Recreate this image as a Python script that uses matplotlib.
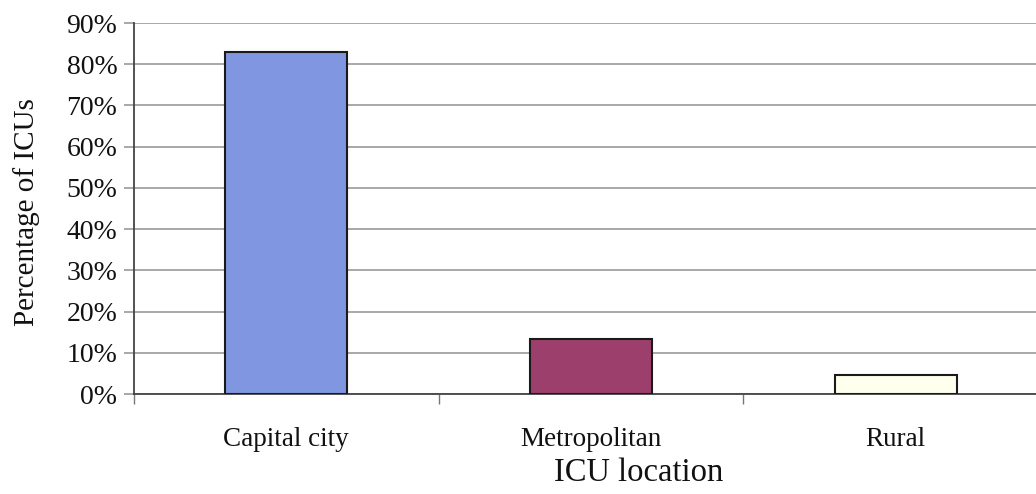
import matplotlib.pyplot as plt
from matplotlib.ticker import FixedLocator, FuncFormatter

# data
locations = ['Capital city', 'Metropolitan', 'Rural']
pct_icus = [83.0, 13.3, 4.5]
bar_colors = ['#8096E0', '#9C3F6C', '#FFFFEE']
y_ticks = [0, 10, 20, 30, 40, 50, 60, 70, 80, 90]

plt.rcParams['font.family'] = ['Liberation Serif', 'DejaVu Serif']

fig = plt.figure(figsize=(10.36, 4.94), dpi=100)
ax = fig.add_axes([0.1293, 0.2024, 0.8707, 0.751])

x = list(range(len(locations)))
ax.bar(x, pct_icus, width=0.40, color=bar_colors, edgecolor='#1a1a1a',
       linewidth=1.5, zorder=3)

ax.set_ylim(0, 90)
ax.set_xlim(-0.5, 2.46)

ax.yaxis.set_major_locator(FixedLocator(y_ticks))
ax.yaxis.set_major_formatter(FuncFormatter(lambda v, p: '%d%%' % v))
ax.grid(axis='y', color='#9a9a9a', linewidth=1.2, zorder=0)
ax.tick_params(axis='y', length=7, width=1.2, color='#9a9a9a', pad=5,
               labelsize=20, labelcolor='#111111')

# category boundaries get the ticks, labels sit in the middle
ax.xaxis.set_major_locator(FixedLocator([-0.5, 0.5, 1.5]))
ax.xaxis.set_major_formatter(FuncFormatter(lambda v, p: ''))
ax.xaxis.set_minor_locator(FixedLocator(x))
ax.set_xticklabels(locations, minor=True)
ax.tick_params(axis='x', which='major', length=7, width=1, color='#777777')
ax.tick_params(axis='x', which='minor', length=0, pad=24, labelsize=19.5,
               labelcolor='#111111')

for s in ['top', 'right']:
    ax.spines[s].set_visible(False)
ax.spines['left'].set_color('#444444')
ax.spines['bottom'].set_color('#444444')
ax.spines['left'].set_linewidth(1.3)
ax.spines['bottom'].set_linewidth(1.3)

ax.set_ylabel('Percentage of ICUs', fontsize=21, color='#111111')
ax.yaxis.set_label_coords(-0.104, 0.49)
ax.set_xlabel('ICU location', fontsize=23.5, color='#111111')
ax.xaxis.set_label_coords(0.559, -0.17)
ax.xaxis.label.set_va('top')

fig.savefig('out.png', dpi=100)
